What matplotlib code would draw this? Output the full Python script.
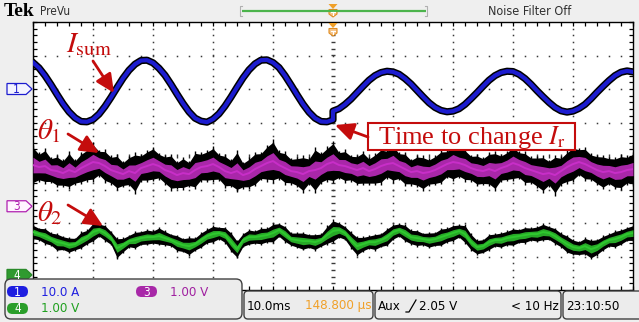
import numpy as np
import matplotlib
matplotlib.use("Agg")
import matplotlib.pyplot as plt
from matplotlib.patches import FancyBboxPatch, Polygon, Rectangle

plt.rcParams['mathtext.fontset'] = 'stix'

W, H = 639, 322

# ---- record: 10 ms/div, 10 divisions, one sample per ms ----
t_ms = np.arange(0, 101)

# CH1: summed current (A); the reference changes at t = 50 ms
i_sum_before = [7.9, 6.3, 4.0, 1.3, -1.6, -4.4, -6.8, -8.6, -9.7, -9.8,
                -9.1, -7.5, -5.2, -2.5, 0.4, 3.2, 5.6, 7.4, 8.5, 8.6,
                7.8, 6.2, 4.1, 1.4, -1.5, -4.3, -6.8, -8.7, -9.6, -9.9,
                -9.0, -7.4, -5.1, -2.4, 0.5, 3.3, 5.7, 7.5, 8.6, 8.7,
                7.9, 6.4, 4.0, 1.2, -1.7, -4.5, -6.9, -8.7, -9.7, -9.8,
                -9.2]
i_sum_after = [-6.6, -5.9, -4.6, -3.0, -1.1, 0.8, 2.6, 4.0, 4.9, 5.3,
               5.1, 4.4, 3.1, 1.5, -0.4, -2.3, -4.1, -5.5, -6.4, -6.8,
               -6.6, -5.9, -4.6, -2.9, -1.1, 0.8, 2.6, 4.0, 4.9, 5.3,
               5.2, 4.4, 3.1, 1.4, -0.5, -2.3, -4.0, -5.5, -6.5, -6.9,
               -6.6, -5.8, -4.6, -2.9, -1.0, 0.8, 2.5, 4.0, 5.0, 5.4,
               5.1]

# CH3: theta1 (V) and its noise half-spread (V)
theta1_v = [1.23, 1.17, 1.20, 1.08, 1.05, 0.99, 1.08, 1.02, 1.14, 1.23,
            1.32, 1.29, 1.20, 1.08, 1.02, 0.96, 1.05, 0.99, 1.14, 1.20,
            1.26, 1.20, 1.08, 1.02, 0.93, 0.99, 0.96, 1.08, 1.17, 1.20,
            1.26, 1.17, 1.05, 0.99, 1.05, 0.93, 0.99, 1.11, 1.20, 1.29,
            1.35, 1.23, 1.14, 1.05, 1.02, 0.96, 1.05, 1.08, 1.14, 1.26,
            1.32, 1.23, 1.20, 1.14, 1.08, 1.14, 1.05, 1.11, 1.20, 1.26,
            1.29, 1.20, 1.11, 1.02, 1.05, 0.99, 1.02, 1.08, 1.17, 1.26,
            1.32, 1.29, 1.23, 1.14, 1.08, 1.05, 1.11, 1.05, 1.14, 1.20,
            1.29, 1.23, 1.14, 1.08, 1.02, 0.96, 0.99, 0.93, 1.05, 1.17,
            1.26, 1.32, 1.26, 1.17, 1.08, 1.02, 1.05, 0.99, 1.02, 1.08,
            1.11]
theta1_spread = [0.52, 0.38, 0.46, 0.34, 0.42, 0.36, 0.49, 0.33, 0.41, 0.44,
                 0.51, 0.35, 0.43, 0.38, 0.47, 0.34, 0.40, 0.54, 0.36, 0.42,
                 0.45, 0.35, 0.39, 0.48, 0.37, 0.43, 0.34, 0.50, 0.38, 0.42,
                 0.46, 0.36, 0.44, 0.37, 0.55, 0.35, 0.41, 0.45, 0.37, 0.48,
                 0.56, 0.38, 0.43, 0.35, 0.40, 0.49, 0.36, 0.60, 0.42, 0.46,
                 0.55, 0.37, 0.43, 0.35, 0.40, 0.45, 0.36, 0.42, 0.48, 0.38,
                 0.51, 0.37, 0.44, 0.35, 0.42, 0.46, 0.36, 0.40, 0.45, 0.37,
                 0.50, 0.39, 0.43, 0.35, 0.42, 0.37, 0.44, 0.52, 0.36, 0.40,
                 0.46, 0.37, 0.43, 0.36, 0.42, 0.49, 0.35, 0.53, 0.38, 0.43,
                 0.47, 0.37, 0.44, 0.36, 0.40, 0.45, 0.37, 0.42, 0.46, 0.38,
                 0.44]

# CH4: theta2 (V) and its noise half-spread (V)
theta2_v = [1.28, 1.22, 1.16, 1.07, 0.98, 0.95, 0.89, 0.92, 1.04, 1.13,
            1.28, 1.34, 1.25, 1.10, 0.80, 0.89, 1.01, 1.04, 1.10, 1.13,
            1.13, 1.16, 1.10, 1.04, 0.95, 0.89, 0.86, 0.92, 1.04, 1.16,
            1.22, 1.25, 1.19, 0.98, 0.77, 1.04, 1.13, 1.13, 1.16, 1.19,
            1.25, 1.34, 1.22, 1.07, 1.04, 1.01, 1.01, 0.98, 1.04, 1.19,
            1.31, 1.34, 1.25, 1.04, 0.86, 0.92, 0.98, 0.98, 1.04, 1.13,
            1.28, 1.34, 1.25, 1.13, 1.10, 1.07, 1.04, 1.07, 1.13, 1.19,
            1.25, 1.31, 1.22, 0.98, 0.83, 0.86, 0.98, 1.04, 1.04, 1.10,
            1.13, 1.16, 1.19, 1.22, 1.22, 1.28, 1.25, 1.16, 1.04, 0.92,
            0.83, 0.80, 0.86, 0.77, 0.83, 0.95, 1.04, 1.07, 1.13, 1.22,
            1.25]
theta2_spread = [0.20, 0.17, 0.22, 0.18, 0.24, 0.19, 0.21, 0.17, 0.23, 0.20,
                 0.26, 0.18, 0.22, 0.19, 0.28, 0.20, 0.17, 0.23, 0.19, 0.21,
                 0.18, 0.24, 0.20, 0.17, 0.22, 0.19, 0.25, 0.18, 0.21, 0.20,
                 0.23, 0.17, 0.22, 0.27, 0.24, 0.19, 0.21, 0.18, 0.23, 0.20,
                 0.26, 0.19, 0.22, 0.18, 0.21, 0.24, 0.19, 0.22, 0.18, 0.25,
                 0.30, 0.21, 0.19, 0.23, 0.26, 0.20, 0.18, 0.22, 0.19, 0.24,
                 0.21, 0.18, 0.23, 0.20, 0.22, 0.17, 0.21, 0.19, 0.24, 0.20,
                 0.22, 0.18, 0.25, 0.23, 0.20, 0.19, 0.22, 0.18, 0.21, 0.20,
                 0.24, 0.19, 0.22, 0.18, 0.21, 0.23, 0.19, 0.22, 0.20, 0.24,
                 0.21, 0.19, 0.23, 0.26, 0.22, 0.20, 0.18, 0.23, 0.21, 0.19,
                 0.22]

# vertical settings: units per division and offset (divisions from centre)
ch1_scale, ch1_offset = 10.0, 2.0
ch3_scale, ch3_offset = 1.0, -1.5
ch4_scale, ch4_offset = 1.0, -3.55

BLUE = '#1c1ccf'
MAGENTA = '#c82ec8'
GREEN = '#2fc82f'
RED = '#c40c0c'
ORANGE = '#f0a028'
BG = '#efefef'
UI = dict(family='DejaVu Sans', fontstretch='condensed')

fig = plt.figure(figsize=(W / 100, H / 100), dpi=100, facecolor=BG)

# ---- graticule ----
X0, X1, Y0, Y1 = 33, 633, 22, 290
ax = fig.add_axes([X0 / W, 1 - Y1 / H, (X1 - X0) / W, (Y1 - Y0) / H])
ax.set_facecolor('white')
ax.set_xlim(0, 100)
ax.set_ylim(-4, 4)
ax.set_xticks(np.arange(0, 101, 10))
ax.set_xticks(np.arange(0, 101, 2), minor=True)
ax.set_yticks(np.arange(-4, 4.01, 1))
ax.set_yticks(np.arange(-4, 4.01, 0.2), minor=True)
ax.tick_params(which='both', direction='in', top=True, bottom=True, left=True,
               right=True, labelbottom=False, labelleft=False, length=3.2,
               width=0.9, color='black')
for s in ax.spines.values():
    s.set_color('black')
    s.set_linewidth(1.0)

dot_kw = dict(ls='none', marker='s', ms=1.1, mec='none', mfc='#3a3a3a', zorder=1)
yy_minor = np.arange(-4, 4.01, 0.2)
xx_minor = np.arange(0, 100.1, 2)
for gx in range(10, 100, 10):
    if gx != 50:
        ax.plot(np.full_like(yy_minor, gx), yy_minor, **dot_kw)
for gy in range(-3, 4):
    if gy != 0:
        ax.plot(xx_minor, np.full_like(xx_minor, gy), **dot_kw)
ax.plot(np.full_like(yy_minor, 50), yy_minor, ls='none', marker='_', ms=3.5,
        mew=1.0, color='#3a3a3a', zorder=1)
ax.plot(xx_minor, np.zeros_like(xx_minor), ls='none', marker='|', ms=3.5,
        mew=1.0, color='#3a3a3a', zorder=1)

# ---- traces ----
t_cur = np.concatenate([t_ms[:51], t_ms[50:]])
i_cur = np.concatenate([i_sum_before, i_sum_after])
y_cur = ch1_offset + i_cur / ch1_scale
ax.plot(t_cur, y_cur, color='black', lw=5.2, solid_joinstyle='round', zorder=5)
ax.plot(t_cur, y_cur, color=BLUE, lw=3.0, solid_joinstyle='round', zorder=6)


def noisy_trace(values, spread, scale, offset, color):
    c = offset + np.array(values) / scale
    w = np.array(spread) / scale
    ax.fill_between(t_ms, c - w, c + w, color='black', lw=0, zorder=3)
    ax.vlines(t_ms, c - 1.15 * w, c + 1.15 * w, color='black', lw=1.0, zorder=3)
    ax.fill_between(t_ms, c - 0.45 * w, c + 0.45 * w, color=color, lw=0,
                    zorder=4, alpha=0.85)
    ax.plot(t_ms, c, color=color, lw=1.4, zorder=4)


noisy_trace(theta1_v, theta1_spread, ch3_scale, ch3_offset, MAGENTA)
noisy_trace(theta2_v, theta2_spread, ch4_scale, ch4_offset, GREEN)

# ---- overlay in pixel coordinates ----
ov = fig.add_axes([0, 0, 1, 1], zorder=10)
ov.set_xlim(0, W)
ov.set_ylim(H, 0)
ov.axis('off')


def div_to_px(d):
    return Y0 + (4 - d) * (Y1 - Y0) / 8


# header
ov.text(4, 11, 'Tek', fontsize=14, fontweight='bold', family='Liberation Serif',
        va='center', ha='left', color='black')
ov.text(40, 11.5, 'PreVu', fontsize=8.5, va='center', ha='left',
        color='#303030', **UI)
ov.plot([242, 426], [11, 11], color='#4cb44c', lw=1.6, solid_capstyle='butt')
ov.plot([242, 240, 240, 242], [6, 6, 16, 16], color='#b0b0b0', lw=0.8)
ov.plot([425, 427, 427, 425], [6, 6, 16, 16], color='#b0b0b0', lw=0.8)
ov.text(530, 11.5, 'Noise Filter Off', fontsize=9, va='center',
        ha='center', color='#303030', **UI)


def trigger_marker(ytop):
    ov.add_patch(Polygon([(328.5, ytop), (337.5, ytop), (333, ytop + 5)],
                         closed=True, fc=ORANGE, ec='none'))
    ov.add_patch(Polygon([(329, ytop + 5.5), (337, ytop + 5.5), (337, ytop + 10),
                          (333, ytop + 13), (329, ytop + 10)],
                         closed=True, fc='#f6c488', ec='#e08c20', lw=0.8))
    ov.plot([331, 335], [ytop + 7.5, ytop + 7.5], color='white', lw=0.8)
    ov.plot([333, 333], [ytop + 7.5, ytop + 11], color='white', lw=0.8)


trigger_marker(4)
trigger_marker(23)


# channel ground markers
def flag(d, label, ec, fc, tc):
    y = div_to_px(d)
    pts = [(7, y - 5.5), (26, y - 5.5), (32, y), (26, y + 5.5), (7, y + 5.5)]
    ov.add_patch(Polygon(pts, closed=True, ec=ec, fc=fc, lw=0.9))
    ov.text(16.5, y + 0.5, label, color=tc, ha='center', va='center',
            fontsize=8.5, **UI)


flag(ch1_offset, '1', BLUE, '#f4f4ff', BLUE)
flag(ch3_offset, '3', '#b020b0', '#fff4ff', '#b020b0')
flag(ch4_offset, '4', '#2a8a2a', '#2f9a2f', 'white')

# annotations
ann = dict(arrowstyle='-|>,head_length=0.7,head_width=0.33', color=RED, lw=2.0,
           mutation_scale=16, shrinkA=0, shrinkB=0)
ov.text(66, 52, r'$I_{\mathrm{sum}}$', fontsize=21, color=RED, ha='left',
        va='baseline')
ov.annotate('', xy=(114, 93), xytext=(93, 61), arrowprops=ann)
ov.text(37, 139, r'$\theta_1$', fontsize=21, color=RED, ha='left', va='baseline')
ov.annotate('', xy=(99, 153), xytext=(68, 134), arrowprops=ann)
ov.text(37, 221, r'$\theta_2$', fontsize=21, color=RED, ha='left', va='baseline')
ov.annotate('', xy=(103, 226), xytext=(68, 205), arrowprops=ann)

ov.add_patch(Rectangle((368, 123), 207, 27, fc='white', ec=RED, lw=1.5))
ov.text(471.5, 137, r'Time to change $I_{\mathrm{r}}$', fontsize=19,
        family='Liberation Serif', color=RED, ha='center', va='center')
ov.annotate('', xy=(335, 125), xytext=(368, 137), arrowprops=ann)

# status area
ov.add_patch(FancyBboxPatch((5, 279), 237, 40,
                            boxstyle='round,pad=0,rounding_size=6',
                            fc='#ececec', ec='#404040', lw=1.0))


def pill(x, y, label, fc):
    ov.add_patch(FancyBboxPatch((x, y), 21, 11,
                                boxstyle='round,pad=0,rounding_size=5.5',
                                fc=fc, ec='none'))
    ov.text(x + 10.5, y + 6, label, color='white', ha='center', va='center',
            fontsize=8.5, **UI)


pill(7, 286, '1', '#1e1ee0')
pill(136, 286, '3', '#a828a8')
pill(7, 303, '4', '#2a9e2a')
ov.text(41, 292, '10.0 A', color='#2020e0', fontsize=9.5, va='center',
        ha='left', **UI)
ov.text(170, 292, '1.00 V', color='#a020a0', fontsize=9.5, va='center',
        ha='left', **UI)
ov.text(41, 309, '1.00 V', color='#20a020', fontsize=9.5, va='center',
        ha='left', **UI)

for bx, bw in [(244, 129), (375, 186), (563, 80)]:
    ov.add_patch(FancyBboxPatch((bx, 291), bw, 28,
                                boxstyle='round,pad=0,rounding_size=4',
                                fc='#ececec', ec='#404040', lw=1.0))
ov.text(247, 306, '10.0ms', fontsize=9.5, va='center', ha='left',
        color='black', **UI)
ov.text(372, 306, '148.800 \u00b5s', fontsize=9.5, va='center', ha='right',
        color=ORANGE, **UI)
ov.text(378, 306, 'Aux', fontsize=9.5, va='center', ha='left', color='black',
        **UI)
ov.plot([406, 409, 416], [312, 312, 300], color='black', lw=0.9)
ov.text(419, 306, '2.05 V', fontsize=9.5, va='center', ha='left',
        color='black', **UI)
ov.text(559, 306, '< 10 Hz', fontsize=9.5, va='center', ha='right',
        color='black', **UI)
ov.text(566, 306, '23:10:50', fontsize=9.5, va='center', ha='left',
        color='black', **UI)

fig.savefig('out.png', dpi=100, facecolor=BG)
